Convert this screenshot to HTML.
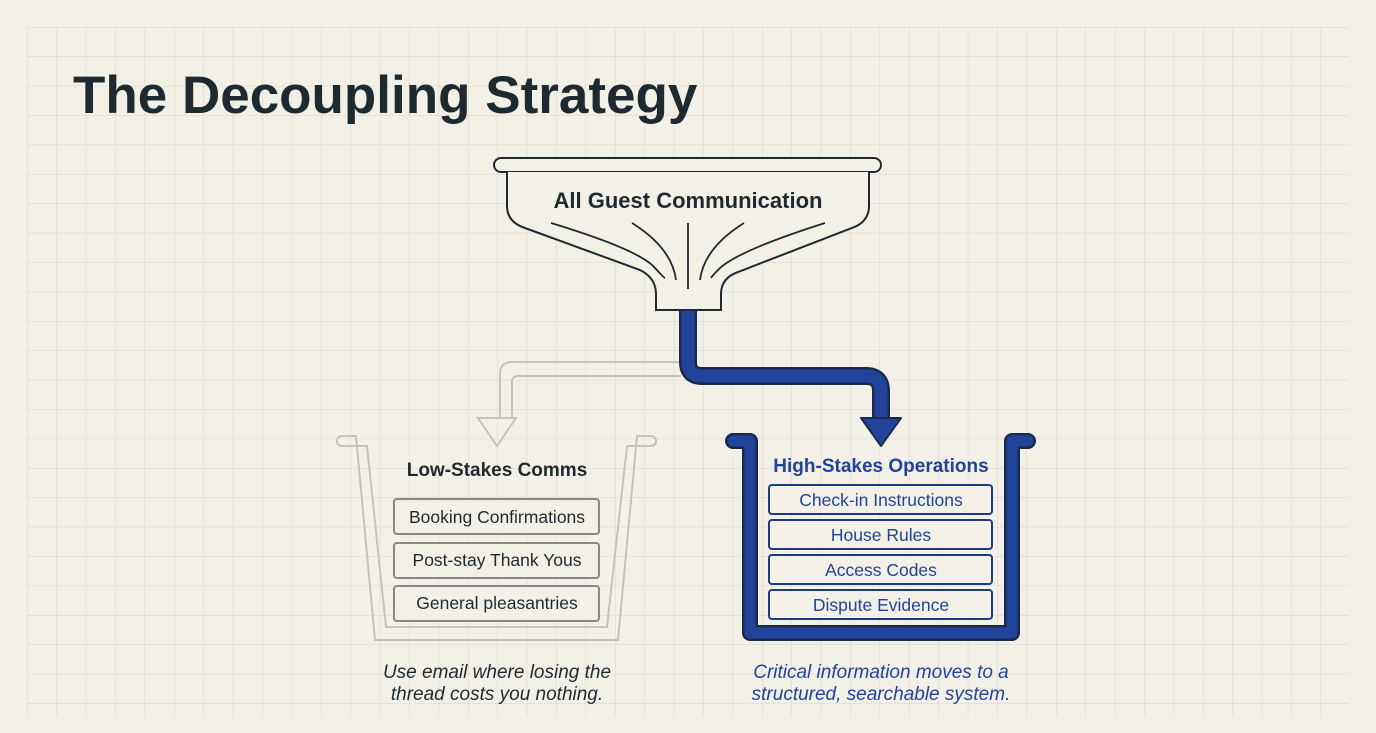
<!DOCTYPE html>
<html><head><meta charset="utf-8"><style>
html,body{margin:0;padding:0;background:#f3f0e8;}
svg{display:block;font-family:"Liberation Sans",sans-serif;}
</style></head><body>
<svg width="1376" height="733" viewBox="0 0 1376 733">
<defs>
<pattern id="g" x="27" y="27" width="29.4" height="29.4" patternUnits="userSpaceOnUse">
<path d="M0 0H29.4M0 0V29.4" stroke="#d9d5ca" stroke-width="1" fill="none"/>
</pattern>
</defs>
<rect width="1376" height="733" fill="#f3f0e8"/>
<rect x="27" y="27" width="1322" height="690" fill="url(#g)"/>
<text x="73" y="113" font-size="53" font-weight="bold" fill="#1f2a30">The Decoupling Strategy</text>

<!-- gray pipe -->
<path d="M681 362 H512 Q500 362 500 374 V418 H478 L497 446 L516 418 H492" fill="none" stroke="#c4c2bc" stroke-width="2"/>
<path d="M681 376 H518 Q512 376 512 382 V418 H516" fill="none" stroke="#c4c2bc" stroke-width="2"/>
<!-- blue pipe -->
<path d="M688 310 V362 Q688 376 702 376 H866 Q881 376 881 391 V420" fill="none" stroke="#1a2a4a" stroke-width="18"/>
<path d="M688 310 V362 Q688 376 702 376 H866 Q881 376 881 391 V420" fill="none" stroke="#21449a" stroke-width="13"/>
<path d="M861 418 L901 418 L881 446 Z" fill="#21449a" stroke="#1a2a4a" stroke-width="2" stroke-linejoin="round"/>

<!-- funnel -->
<rect x="494" y="158" width="387" height="14" rx="7" fill="#f3f0e8" stroke="#1f2a30" stroke-width="2"/>
<path d="M507 172 V206 Q507 222 525 228 L640 270 Q656 278 656 294 V310 H721 V294 Q721 278 738 272 L852 228 Q869 222 869 206 V172" fill="#f3f0e8" stroke="#1f2a30" stroke-width="2"/>
<text x="688" y="208" text-anchor="middle" font-size="22" font-weight="bold" fill="#1f2a30">All Guest Communication</text>
<g fill="none" stroke="#1f2a30" stroke-width="1.8">
<path d="M551 223 Q640 250 655 268 Q664 278 665 278"/>
<path d="M632 223 Q672 248 676 280"/>
<path d="M688 223 V289"/>
<path d="M744 223 Q704 248 700 280"/>
<path d="M825 223 Q740 250 720 268 Q712 276 711 278"/>
</g>

<!-- left bucket -->
<path d="M353 446 H343 Q337 446 337 441 Q337 436 343 436 H356 L375 640 H618 L637 436 H650 Q656 436 656 441 Q656 446 650 446 H641 L627 446" fill="none" stroke="#c4c2bc" stroke-width="2"/>
<path d="M353 446 H367 L386 627 H607 L627 446" fill="none" stroke="#c4c2bc" stroke-width="2"/>
<text x="497" y="476" text-anchor="middle" font-size="19" font-weight="bold" fill="#1f2a30">Low-Stakes Comms</text>
<g font-size="17.5" fill="#1f2a30" text-anchor="middle">
<rect x="394" y="499" width="205" height="35" rx="3" fill="#f3f0e8" stroke="#888" stroke-width="2"/>
<text x="497" y="523">Booking Confirmations</text>
<rect x="394" y="543" width="205" height="35" rx="3" fill="#f3f0e8" stroke="#888" stroke-width="2"/>
<text x="497" y="566">Post-stay Thank Yous</text>
<rect x="394" y="586" width="205" height="35" rx="3" fill="#f3f0e8" stroke="#888" stroke-width="2"/>
<text x="497" y="609">General pleasantries</text>
</g>
<text x="497" y="678" text-anchor="middle" font-size="19" font-style="italic" fill="#1f2a30">Use email where losing the</text>
<text x="497" y="700" text-anchor="middle" font-size="19" font-style="italic" fill="#1f2a30">thread costs you nothing.</text>

<!-- right bucket -->
<path d="M733 441 H750 V633 H1012 V441 H1028" fill="none" stroke="#1a2a4a" stroke-width="16" stroke-linejoin="round" stroke-linecap="round"/>
<path d="M733 441 H750 V633 H1012 V441 H1028" fill="none" stroke="#21449a" stroke-width="11" stroke-linejoin="round" stroke-linecap="round"/>
<text x="881" y="472" text-anchor="middle" font-size="19" font-weight="bold" fill="#21449a">High-Stakes Operations</text>
<g font-size="17.5" fill="#21449a" text-anchor="middle">
<rect x="769" y="485" width="223" height="29" rx="3" fill="#f3f0e8" stroke="#1e3a80" stroke-width="2"/>
<text x="881" y="506">Check-in Instructions</text>
<rect x="769" y="520" width="223" height="29" rx="3" fill="#f3f0e8" stroke="#1e3a80" stroke-width="2"/>
<text x="881" y="541">House Rules</text>
<rect x="769" y="555" width="223" height="29" rx="3" fill="#f3f0e8" stroke="#1e3a80" stroke-width="2"/>
<text x="881" y="576">Access Codes</text>
<rect x="769" y="590" width="223" height="29" rx="3" fill="#f3f0e8" stroke="#1e3a80" stroke-width="2"/>
<text x="881" y="611">Dispute Evidence</text>
</g>
<text x="881" y="678" text-anchor="middle" font-size="19" font-style="italic" fill="#21449a">Critical information moves to a</text>
<text x="881" y="700" text-anchor="middle" font-size="19" font-style="italic" fill="#21449a">structured, searchable system.</text>
</svg>
</body></html>
